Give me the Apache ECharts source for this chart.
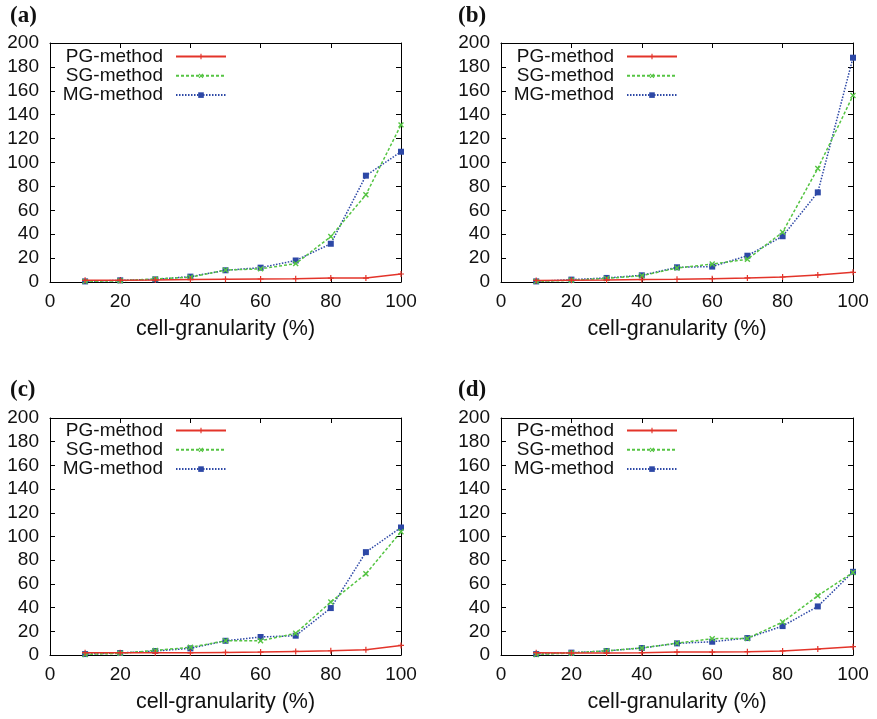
<!DOCTYPE html>
<html>
<head>
<meta charset="utf-8">
<script src="https://cdn.jsdelivr.net/npm/echarts@6/dist/echarts.min.js"></script>
<style>html,body{margin:0;padding:0;background:#fff;}#c{width:877px;height:719px;}</style>
</head>
<body>
<div id="c"></div>
<script>
// ---- data ----
const xValues = [10, 20, 30, 40, 50, 60, 70, 80, 90, 100];
const seriesNames = ['PG-method', 'SG-method', 'MG-method'];
const panelLabels = ['(a)', '(b)', '(c)', '(d)'];
const xAxisTitle = 'cell-granularity (%)';

const pgA = [1.4, 1.5, 1.6, 2.0, 2.2, 2.5, 2.8, 3.3, 3.3, 6.7];
const sgA = [0.5, 1.0, 2.6, 4.0, 10.0, 11.0, 15.4, 38.0, 73.0, 131.5];
const mgA = [0.5, 1.4, 2.2, 4.5, 9.8, 12.0, 18.0, 32.0, 89.0, 109.0];

const pgB = [1.3, 1.5, 1.7, 2.0, 2.2, 2.8, 3.4, 4.2, 5.9, 8.1];
const sgB = [0.5, 1.4, 3.0, 5.3, 11.7, 15.0, 19.0, 41.7, 95.0, 156.0];
const mgB = [0.5, 2.0, 3.4, 5.6, 12.3, 12.9, 22.0, 38.3, 75.0, 187.7];

const pgC = [2.0, 2.0, 1.8, 1.8, 2.2, 2.5, 3.0, 3.6, 4.5, 8.1];
const sgC = [0.5, 1.4, 3.9, 6.5, 12.0, 12.0, 18.3, 44.7, 68.5, 104.0];
const mgC = [0.8, 1.7, 3.4, 5.6, 12.0, 15.2, 16.3, 39.6, 86.8, 107.6];

const pgD = [2.0, 1.7, 1.7, 2.0, 2.5, 2.5, 2.8, 3.4, 5.0, 7.0];
const sgD = [0.5, 1.7, 3.6, 5.9, 10.0, 13.8, 14.0, 27.8, 50.0, 69.7];
const mgD = [0.8, 2.0, 3.4, 5.9, 9.8, 11.2, 14.3, 24.4, 41.0, 70.2];

const panels = [[pgA, sgA, mgA], [pgB, sgB, mgB], [pgC, sgC, mgC], [pgD, sgD, mgD]];

// ---- layout / style ----
const grids = [
  {left: 50, top: 43, width: 351, height: 239},
  {left: 501, top: 43, width: 352, height: 239},
  {left: 50, top: 418, width: 351, height: 237},
  {left: 501, top: 418, width: 352, height: 237}
];
const labelPos = [
  {left: 10, top: 5}, {left: 458, top: 5}, {left: 10, top: 379}, {left: 458, top: 379}
];
const legendPos = [
  {right: 650, top: 47}, {right: 199, top: 47}, {right: 650, top: 421}, {right: 199, top: 421}
];
const colors = ['#e3342a', '#55c443', '#2d48a6'];
const lineTypes = ['solid', [3, 2], [1.5, 1.5]];
const plusPath = 'path://M2.4,0h1.2v6h-1.2z M0,2.4h6v1.2h-6z';
const symbols = [plusPath, plusPath, 'rect'];
const symbolRot = [0, 45, 0];
const symbolSizes = [6, 7, 6];
const FONT = 'Liberation Sans, Arial, sans-serif';
const TXT = '#111';

const xAxes = [], yAxes = [], series = [], legends = [], titles = [];
grids.forEach((g, i) => {
  const baseX = {
    type: 'value', gridIndex: i, min: 0, max: 100, interval: 20,
    axisLine: {show: true, onZero: false, lineStyle: {color: '#000', width: 1}},
    axisTick: {show: true, inside: true, length: 5, lineStyle: {color: '#000'}},
    splitLine: {show: false}
  };
  xAxes.push(Object.assign({}, baseX, {
    position: 'bottom',
    axisLabel: {color: TXT, fontSize: 19, fontFamily: FONT, margin: 10},
    name: xAxisTitle, nameLocation: 'middle', nameGap: 36,
    nameTextStyle: {color: TXT, fontSize: 21.5, fontFamily: FONT}
  }));
  xAxes.push(Object.assign({}, baseX, {position: 'top', axisLabel: {show: false}}));
  const baseY = {
    type: 'value', gridIndex: i, min: 0, max: 200, interval: 20,
    axisLine: {show: true, onZero: false, lineStyle: {color: '#000', width: 1}},
    axisTick: {show: true, inside: true, length: 5, lineStyle: {color: '#000'}},
    splitLine: {show: false}
  };
  yAxes.push(Object.assign({}, baseY, {
    position: 'left',
    axisLabel: {color: TXT, fontSize: 19, fontFamily: FONT, margin: 11}
  }));
  yAxes.push(Object.assign({}, baseY, {position: 'right', axisLabel: {show: false}}));

  panels[i].forEach((vals, s) => {
    series.push({
      name: seriesNames[s], type: 'line',
      xAxisIndex: 2 * i, yAxisIndex: 2 * i,
      data: xValues.map((x, k) => [x, vals[k]]),
      symbol: symbols[s], symbolSize: symbolSizes[s], symbolRotate: symbolRot[s],
      showAllSymbol: true,
      lineStyle: {color: colors[s], width: 1.5, type: lineTypes[s]},
      itemStyle: {color: colors[s]},
      z: 3 - s + 2,
      animation: false
    });
  });

  legends.push(Object.assign({
    orient: 'vertical', align: 'right', padding: 0,
    itemWidth: 50, itemHeight: 7, itemGap: 0.3,
    data: seriesNames, selectedMode: false,
    textStyle: {fontSize: 19, lineHeight: 19, fontFamily: FONT, color: TXT, padding: [0, 8, 0, 0]}
  }, legendPos[i]));

  titles.push(Object.assign({
    text: panelLabels[i], padding: 0,
    textStyle: {fontFamily: 'Liberation Serif, Times New Roman, serif', fontWeight: 'bold', fontSize: 23, color: TXT}
  }, labelPos[i]));
});

const chart = echarts.init(document.getElementById('c'), null, {renderer: 'canvas'});
chart.setOption({
  backgroundColor: '#fff',
  animation: false,
  title: titles,
  legend: legends,
  grid: grids.map(g => Object.assign({containLabel: false}, g)),
  xAxis: xAxes,
  yAxis: yAxes,
  series: series
});
</script>
</body>
</html>
